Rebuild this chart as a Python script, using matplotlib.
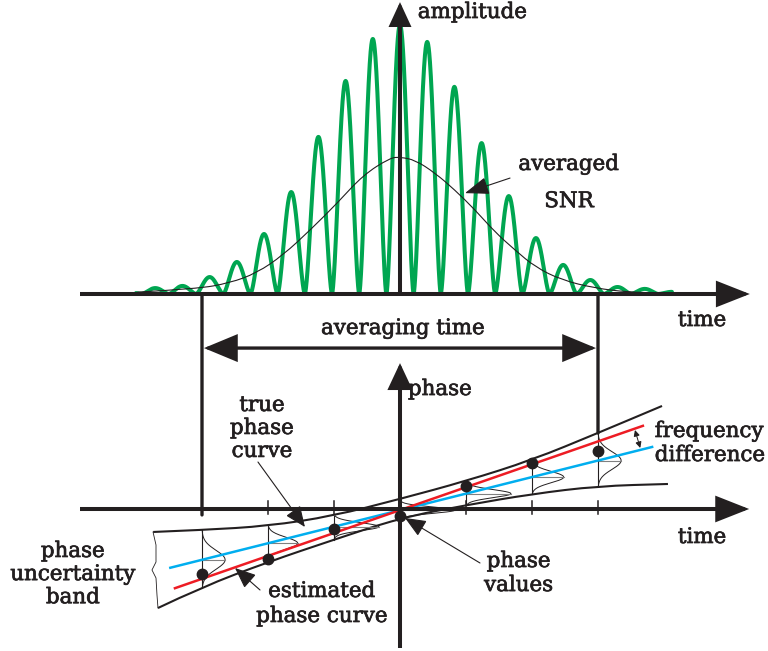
import numpy as np
import matplotlib
matplotlib.use("Agg")
import matplotlib.pyplot as plt
import matplotlib.patheffects as pe
from matplotlib.path import Path
from matplotlib.patches import PathPatch, ConnectionPatch

# --- amplitude panel (time in tick units, amplitude relative to the centre fringe) ---
peak_spacing = 0.412
peak_heights = [0.008, 0.022, 0.030, 0.063, 0.119, 0.223, 0.379, 0.584, 0.792, 0.948,
                1.0,
                0.937, 0.770, 0.561, 0.364, 0.208, 0.108, 0.052, 0.026, 0.019, 0.008]
wave_start, wave_end = -4.0, 4.12
lobe_power = 1.6

snr_t = [-3.98, -3.08, -2.58, -2.17, -1.77, -1.36, -0.95, -0.56, -0.15, 0.0, 0.23,
         0.53, 0.83, 1.14, 1.44, 1.74, 2.05, 2.45, 2.95, 3.45, 3.97]
snr_amp = [0.007, 0.019, 0.041, 0.078, 0.145, 0.238, 0.338, 0.442, 0.506, 0.509, 0.498,
           0.450, 0.387, 0.312, 0.230, 0.164, 0.100, 0.052, 0.022, 0.007, 0.004]

# --- phase panel (time and phase in tick units) ---
tick_t = [-3, -2, -1, 0, 1, 2, 3]
phase_values = [-0.985, -0.758, -0.303, -0.106, 0.348, 0.697, 0.879]
pdf_extent = [0.35, 0.45, 0.68, 0.83, 0.68, 0.48, 0.35]

true_t = [-3.48, 3.82]
true_phase = [-0.89, 0.94]
est_t = [-3.41, 3.68]
est_phase = [-1.20, 1.26]

band_upper_t = [-3.74, -2.985, -2.0, -1.015, 0.0, 1.0, 2.0, 3.0, 3.97]
band_upper = [-0.348, -0.318, -0.258, -0.106, 0.152, 0.424, 0.742, 1.152, 1.561]
band_lower_t = [-3.667, -3.0, -2.0, -1.015, 0.0, 1.015, 2.0, 3.0, 4.06]
band_lower = [-1.5, -1.182, -0.803, -0.470, -0.136, 0.061, 0.227, 0.348, 0.379]
brace_t = [-3.742, -3.697, -3.697, -3.758, -3.697, -3.682, -3.667]
brace_p = [-0.348, -0.545, -0.803, -0.924, -1.045, -1.303, -1.5]

ink = "#231f20"
green = "#00a651"
blue = "#00aeef"
red = "#ed1c24"
fs = 15.4

plt.rcParams['font.family'] = ['DejaVu Serif']
heavy = [pe.withStroke(linewidth=0.5, foreground=ink)]


def smooth(ax, xs, ys, **kw):
    # quadratic bezier through the midpoints of the read points
    pts = list(zip(xs, ys))
    verts = [pts[0]]
    codes = [Path.MOVETO]
    for i in range(1, len(pts) - 1):
        mid = ((pts[i][0] + pts[i + 1][0]) / 2, (pts[i][1] + pts[i + 1][1]) / 2)
        verts += [pts[i], mid]
        codes += [Path.CURVE3, Path.CURVE3]
    verts.append(pts[-1])
    codes.append(Path.LINETO)
    ax.add_patch(PathPatch(Path(verts, codes), fill=False, **kw))


def arrow(ax, tail, tip, style, lw, z=5):
    ax.annotate('', xy=tip, xytext=tail,
                arrowprops=dict(arrowstyle=style, lw=lw, color=ink, shrinkA=0, shrinkB=0,
                                mutation_scale=1, joinstyle='miter'),
                zorder=z)


def lines(ax, x, y, texts, step, ha='center'):
    for i, s in enumerate(texts):
        ax.text(x, y - i * step, s, ha=ha, va='baseline', fontsize=fs, color=ink,
                path_effects=heavy)


fig = plt.figure(figsize=(7.68, 6.51), dpi=100)
ax_amp = fig.add_axes([0, 0, 1, 1])
ax_ph = fig.add_axes([0, 0, 1, 1])
for ax in (ax_amp, ax_ph):
    ax.set_xlim(-400 / 66, 368 / 66)
    ax.axis('off')
ax_amp.set_ylim(-357 / 269, 294 / 269)
ax_ph.set_ylim(-142 / 66, 509 / 66)

# ---------------- amplitude panel ----------------
t = np.linspace(wave_start, wave_end, 3000)
k = np.round(t / peak_spacing).astype(int)
phase_in_lobe = np.abs(np.cos(np.pi * (t - k * peak_spacing) / peak_spacing))
wave = np.array(peak_heights)[k + 10] * phase_in_lobe ** lobe_power
ax_amp.plot(t, wave, color=green, lw=2.9, zorder=2, solid_capstyle='round')
smooth(ax_amp, snr_t, snr_amp, lw=0.8, edgecolor=ink, zorder=3)

ax_amp.plot([-4.85, 5.0], [0, 0], color=ink, lw=2.9, zorder=4, solid_capstyle='butt')
arrow(ax_amp, (4.9, 0), (5.30, 0), '-|>,head_length=19,head_width=7.5', 2.9)
ax_amp.plot([0, 0], [0, 1.0], color=ink, lw=2.9, zorder=4, solid_capstyle='butt')
arrow(ax_amp, (0, 0.98), (0, 1.085), '-|>,head_length=13,head_width=6', 2.9)
lines(ax_amp, 0.27, 1.026, ["amplitude"], 0, ha='left')
lines(ax_amp, 4.21, -0.119, ["time"], 0, ha='left')

lines(ax_amp, 2.56, 0.461, ["averaged", "SNR"], 0.138)
arrow(ax_amp, (1.667, 0.431), (0.985, 0.375), '-|>,head_length=15,head_width=5.5', 0.8)

# averaging time
lines(ax_amp, 0.05, -0.149, ["averaging time"], 0)
arrow(ax_amp, (-2.97, -0.201), (2.97, -0.201), '<|-|>,head_length=20,head_width=8.3', 2.4)
for tx, p_end in [(-3, -0.09), (3, 1.152)]:
    con = ConnectionPatch(xyA=(tx, 0), coordsA=ax_amp.transData,
                          xyB=(tx, p_end), coordsB=ax_ph.transData,
                          lw=2.4, color=ink, zorder=4)
    fig.add_artist(con)

# ---------------- phase panel ----------------
ax_ph.plot([-4.85, 5.0], [0, 0], color=ink, lw=2.9, zorder=4, solid_capstyle='butt')
arrow(ax_ph, (4.9, 0), (5.29, 0), '-|>,head_length=19,head_width=7.5', 2.9)
ax_ph.plot([0, 0], [-2.11, 2.0], color=ink, lw=2.9, zorder=4, solid_capstyle='butt')
arrow(ax_ph, (0, 1.9), (0, 2.21), '-|>,head_length=14.5,head_width=6.8', 2.9)
lines(ax_ph, 0.12, 1.727, ["phase"], 0, ha='left')
lines(ax_ph, 4.21, -0.515, ["time"], 0, ha='left')

for tx in tick_t:
    if tx != 0:
        ax_ph.plot([tx, tx], [0.12, -0.08], color=ink, lw=1.1, zorder=4)

# uncertainty band
smooth(ax_ph, band_upper_t, band_upper, lw=1.5, edgecolor=ink, zorder=2)
smooth(ax_ph, band_lower_t, band_lower, lw=1.5, edgecolor=ink, zorder=2)
ax_ph.plot(brace_t, brace_p, color=ink, lw=0.6, zorder=2)

# distributions at each tick
for tx, ext in zip(tick_t, pdf_extent):
    up = np.interp(tx, band_upper_t, band_upper)
    lo = np.interp(tx, band_lower_t, band_lower)
    pc = np.interp(tx, true_t, true_phase)
    sig = (up - lo) / 6
    pp = np.linspace(lo, up, 200)
    ax_ph.plot(tx + ext * np.exp(-0.5 * ((pp - pc) / sig) ** 2), pp, color=ink, lw=0.7, zorder=2)
    ax_ph.plot([tx, tx + ext], [pc, pc], color="#808080", lw=0.8, zorder=2)
    if tx != 0:
        ax_ph.plot([tx, tx], [lo, up], color=ink, lw=0.8, zorder=2)

ax_ph.plot(true_t, true_phase, color=blue, lw=1.8, zorder=3)
ax_ph.plot(est_t, est_phase, color=red, lw=1.8, zorder=3)
ax_ph.plot(tick_t, phase_values, 'o', color=ink, ms=7.5, zorder=5)

# frequency difference
arrow(ax_ph, (3.56, 1.197), (3.64, 0.924), '<|-|>,head_length=3.6,head_width=1.8', 0.7)
lines(ax_ph, 3.86, 1.091, ["frequency", "difference"], 0.364, ha='left')

# labels with pointers
lines(ax_ph, -2.09, 1.485, ["true", "phase", "curve"], 0.348)
arrow(ax_ph, (-2.152, 0.712), (-1.44, -0.273), '-|>,head_length=13,head_width=5.5', 0.8)

lines(ax_ph, -4.955, -0.727, ["phase", "uncertainty", "band"], 0.35)

lines(ax_ph, -1.18, -1.333, ["estimated", "phase curve"], 0.379)
arrow(ax_ph, (-2.121, -1.227), (-2.5, -0.894), '-|>,head_length=13,head_width=5.5', 0.8)

lines(ax_ph, 1.80, -0.879, ["phase", "values"], 0.364)
arrow(ax_ph, (1.212, -0.818), (0.076, -0.136), '-|>,head_length=13,head_width=5.5', 0.8)

fig.savefig("out.png", dpi=100)
